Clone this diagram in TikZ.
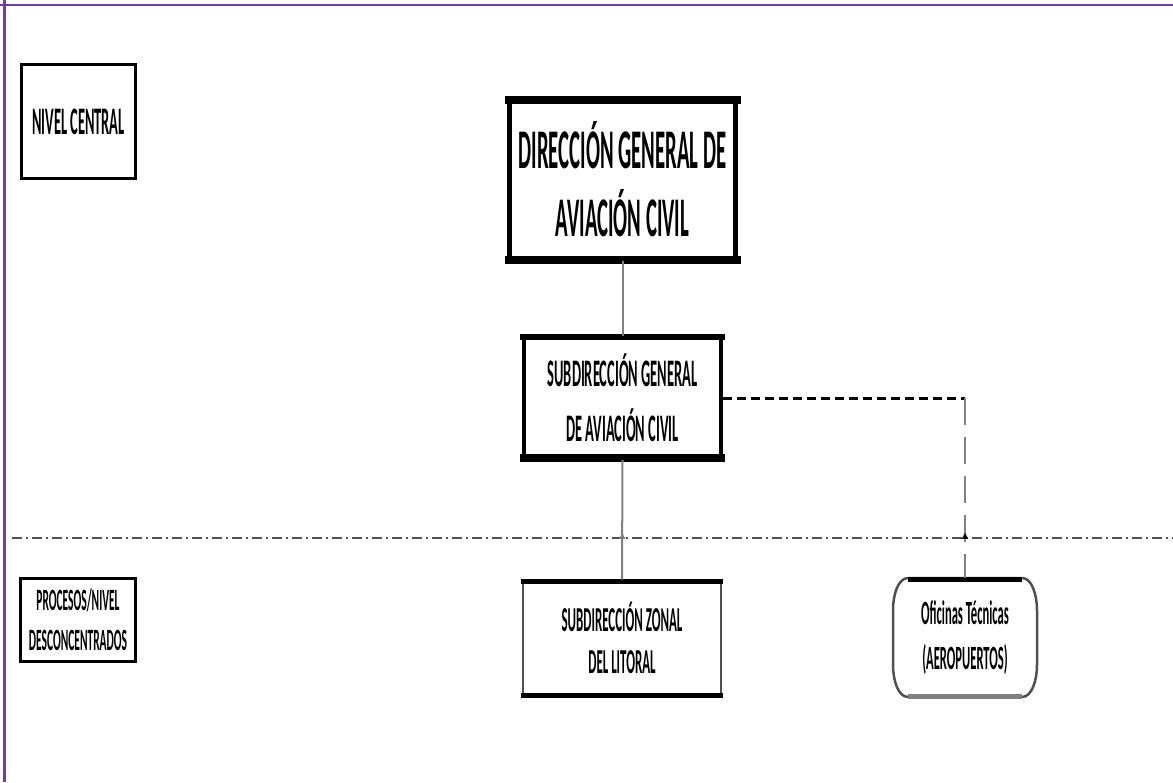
\documentclass[tikz,border=0pt]{standalone}
\usepackage{fontspec}
\newfontfamily\cfont[FakeStretch=0.37]{Carlito}
\usetikzlibrary{arrows.meta,decorations.markings}
\definecolor{frame}{RGB}{112,64,160}
\definecolor{lgrey}{RGB}{128,128,128}
\definecolor{dgrey}{RGB}{80,80,80}
\begin{document}
\begin{tikzpicture}[x=1pt,y=-1pt,
  box/.style={draw, inner sep=0pt, align=center, text=black},
  conn/.style={draw=lgrey, line width=2pt},
  blackdash/.style={draw=black, line width=3pt, dash pattern=on 9pt off 5pt},
  greydash/.style={draw=lgrey, line width=2pt, dash pattern=on 27pt off 12pt},
  divider/.style={draw=dgrey, line width=2.5pt, dash pattern=on 10pt off 4pt on 2pt off 4pt},
  tick/.style={postaction={decorate}, decoration={markings, mark=at position #1 with {\arrowreversed{Triangle[length=6pt,width=6pt]}}}}
]
\useasboundingbox (0,0) rectangle (1173,782);
% frame (top and left edges only)
\draw[frame, line width=2.5pt] (0,5) -- (1173,5);
\draw[frame, line width=2.5pt] (4.5,0) -- (4.5,782);

% level divider
\coordinate (divL) at (12,538);
\coordinate (divR) at (1173,538);
\draw[divider] (divL) -- (divR);

% level labels
\node[box, line width=3pt, minimum width=114pt, minimum height=114pt,
      font=\cfont\bfseries\fontsize{39}{47}\selectfont] (central) at (78.5,121.5) {NIVEL CENTRAL};
\node[box, line width=3pt, minimum width=115pt, minimum height=83pt,
      font=\cfont\bfseries\fontsize{31}{40}\selectfont] (procesos) at (78,620) {PROCESOS/NIVEL\\DESCONCENTRADOS};

% main boxes
\node[box, line width=5pt, minimum width=226pt, minimum height=158pt,
      font=\cfont\bfseries\fontsize{56}{68}\selectfont] (dgac) at (622.5,179.5) {DIRECCIÓN GENERAL DE\\AVIACIÓN CIVIL};
\draw[line width=8pt] ([xshift=-2.5pt,yshift=-1.5pt]dgac.north west) -- ([xshift=2.5pt,yshift=-1.5pt]dgac.north east);
\draw[line width=8pt] ([xshift=-2.5pt,yshift=1.5pt]dgac.south west) -- ([xshift=2.5pt,yshift=1.5pt]dgac.south east);

\node[box, line width=4pt, minimum width=197pt, minimum height=120pt,
      font=\cfont\bfseries\fontsize{39}{55}\selectfont] (sgac) at (622.5,398) {SUBDIRECCIÓN GENERAL\\DE AVIACIÓN CIVIL};
\draw[line width=6pt] ([xshift=-2pt,yshift=-1pt]sgac.north west) -- ([xshift=2pt,yshift=-1pt]sgac.north east);
\draw[line width=8pt] ([xshift=-2pt,yshift=2pt]sgac.south west) -- ([xshift=2pt,yshift=2pt]sgac.south east);

\node[box, draw=dgrey, line width=2pt, minimum width=198pt, minimum height=115pt,
      font=\cfont\bfseries\fontsize{35}{42}\selectfont] (szl) at (622,638) {SUBDIRECCIÓN ZONAL\\DEL LITORAL};
\draw[line width=5pt] ([xshift=-1pt,yshift=-1.5pt]szl.north west) -- ([xshift=1pt,yshift=-1.5pt]szl.north east);
\draw[line width=5pt] ([xshift=-1pt,yshift=1.5pt]szl.south west) -- ([xshift=1pt,yshift=1.5pt]szl.south east);

\node[inner sep=0pt, align=center, minimum width=144pt, minimum height=119pt,
      font=\cfont\bfseries\fontsize{34}{45}\selectfont] (ofi) at (965,637.5) {Oficinas Técnicas\\(AEROPUERTOS)};
\draw[draw=dgrey, line width=2.5pt]
  (908,578) -- (1022,578) .. controls (1032,578) and (1037,595) .. (1037,610)
  -- (1037,665) .. controls (1037,680) and (1032,697) .. (1022,697)
  -- (908,697) .. controls (898,697) and (893,680) .. (893,665)
  -- (893,610) .. controls (893,595) and (898,578) .. (908,578) -- cycle;
\draw[black, line width=5pt] (908,579) -- (1022,579);
\draw[lgrey, line width=5pt] (908,696) -- (1022,696);

% connectors
\draw[conn] (dgac.south) -- (sgac.north);
\draw[conn, tick=0.61] (sgac.south) -- (szl.north);
\coordinate (corner) at (ofi.north |- sgac.east);
\draw[blackdash] (sgac.east) -- (corner);
\draw[greydash] (corner) -- (ofi.north);
\path[tick=0.75] (corner) -- (ofi.north);
\end{tikzpicture}
\end{document}
